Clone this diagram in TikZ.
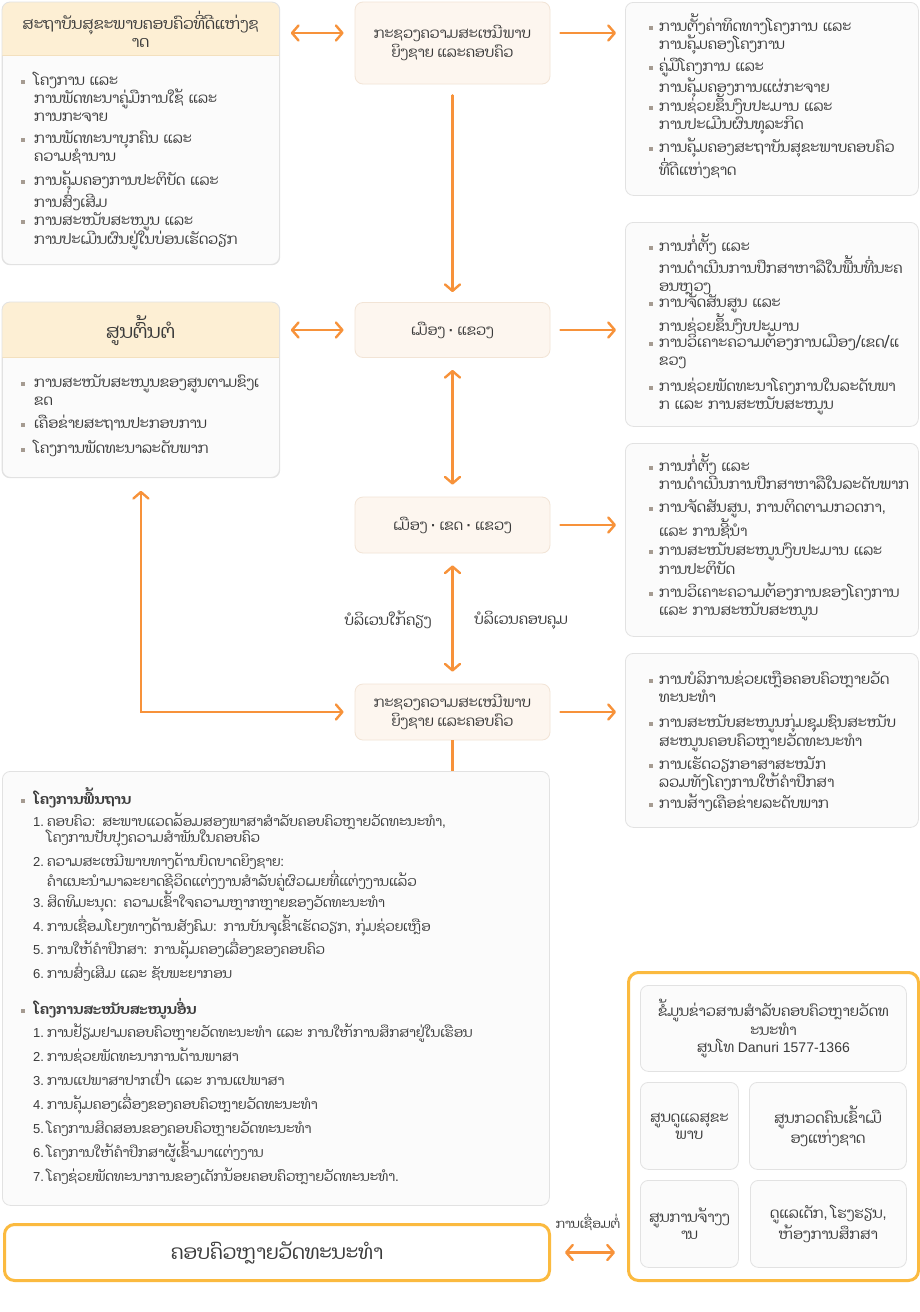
\documentclass[tikz,border=0pt]{standalone}
\usepackage{fontspec}
\setmainfont{Liberation Sans}
\newfontfamily\laofont[Script=Lao]{Dhyana}
\newfontfamily\latinfont{Liberation Sans}
\usetikzlibrary{arrows.meta}
\usetikzlibrary{calc}
\definecolor{custom-orange}{RGB}{247, 146, 58}
\definecolor{custom-gold}{RGB}{251, 186, 63}
\definecolor{custom-head}{RGB}{253, 239, 212}
\definecolor{custom-headline}{RGB}{243, 224, 190}
\definecolor{custom-peach}{RGB}{253, 246, 239}
\definecolor{custom-peachline}{RGB}{242, 228, 214}
\definecolor{custom-line}{RGB}{226, 226, 226}
\definecolor{custom-card}{RGB}{251, 251, 251}
\definecolor{custom-text}{RGB}{58, 58, 58}
\definecolor{custom-dot}{RGB}{165, 155, 145}
\newcommand{\lcol}{{\latinfont:}}
\newcommand{\lcom}{{\latinfont,}}

\tikzset{
  >={Straight Barb[length=6.5pt,width=15pt,round]},
  card/.style={draw=custom-line, fill=custom-card, rounded corners=8pt, line width=0.8pt, anchor=north west, inner sep=0pt},
  stagebox/.style={draw=custom-peachline, fill=custom-peach, rounded corners=8pt, line width=0.8pt, minimum width=195pt, align=center, inner sep=0pt, font=\laofont\fontsize{14.5}{19}\selectfont, text=custom-text},
  goldbox/.style={draw=custom-gold, fill=white, rounded corners=10pt, line width=3pt, anchor=north west, inner sep=0pt, text=custom-text},
  headtitle/.style={align=center, inner sep=0pt, text=custom-text},
  txt/.style={anchor=base west, inner sep=0pt, text width=290pt, align=left, font=\laofont\fontsize{14.5}{18}\selectfont, text=custom-text},
  ktxt/.style={txt, font=\laofont\fontsize{13.6}{16.5}\selectfont},
  numtxt/.style={anchor=base west, inner sep=0pt, font=\fontsize{13}{16.5}\selectfont, text=custom-text},
  boxtxt/.style={align=center, font=\laofont\fontsize{14.5}{17}\selectfont, text=custom-text},
  lbl/.style={inner sep=0pt, font=\laofont\fontsize{14.5}{16}\selectfont, text=custom-text},
  sq/.style={fill=custom-dot, minimum size=3.2pt, inner sep=0pt},
  flow/.style={draw=custom-orange, line width=2.4pt, line cap=round, ->},
  flowboth/.style={flow, <->}
}

\begin{document}
\begin{tikzpicture}[x=1pt,y=-1pt]
\useasboundingbox (0,0) rectangle (920,1312);
\fill[white] (0,0) rectangle (920,1312);

% institute (top left)
\node[card, minimum width=277pt, minimum height=262pt] (inst) at (2,2) {};
\fill[custom-head] (2,55) [rounded corners=8pt] -- (2,2) -- (279,2) [sharp corners] -- (279,55) -- cycle;
\draw[custom-headline] (2,55) -- (279,55);
\draw[custom-line, line width=0.8pt, rounded corners=8pt] (inst.north west) rectangle (inst.south east);
\node[headtitle, font=\laofont\fontsize{15.5}{18}\selectfont] (inst-title) at (140.5,29) {ສະຖາບັນສຸຂະພາບຄອບຄົວທີ່ດີແຫ່ງຊ\\າດ};
\foreach \y/\t [count=\i] in {85/{ໂຄງການ ແລະ\\ການພັດທະນາຄູ່ມືການໃຊ້ ແລະ\\ການກະຈາຍ},
    143/{ການພັດທະນາບຸກຄົນ ແລະ\\ຄວາມຊຳນານ},
    185/{ການຄຸ້ມຄອງການປະຕິບັດ ແລະ\\ການສົ່ງເສີມ},
    225/{ການສະໜັບສະໜູນ ແລະ\\ການປະເມີນຜົນຢູ່ໃນບ່ອນເຮັດວຽກ}} {
  \node[sq] (inst-b\i) at (23,\y-3) {};
  \node[txt] (inst-t\i) at (34,\y) {\t};
}

% main center (left middle)
\node[card, minimum width=277pt, minimum height=175pt] (hub) at (2,302) {};
\fill[custom-head] (2,357) [rounded corners=8pt] -- (2,302) -- (279,302) [sharp corners] -- (279,357) -- cycle;
\draw[custom-headline] (2,357) -- (279,357);
\draw[custom-line, line width=0.8pt, rounded corners=8pt] (hub.north west) rectangle (hub.south east);
\node[headtitle, font=\laofont\fontsize{19}{22}\selectfont] (hub-title) at (140.5,330) {ສູນຕົ້ນຕໍ};
\foreach \y/\t [count=\i] in {387/{ການສະໜັບສະໜູນຂອງສູນຕາມຂົງເ\\ຂດ},
    428/{ເຄືອຂ່າຍສະຖານປະກອບການ},
    453/{ໂຄງການພັດທະນາລະດັບພາກ}} {
  \node[sq] (hub-b\i) at (23,\y-3) {};
  \node[txt] (hub-t\i) at (34,\y) {\t};
}

% levels (center column)
\node[stagebox, minimum height=82pt] (ministry) at (452.5,43) {ກະຊວງຄວາມສະເໝີພາບ\\ຍິງຊາຍ ແລະຄອບຄົວ};
\node[stagebox, minimum height=55pt] (city) at (452.5,330) {ເມືອງ {\latinfont\bfseries ·} ແຂວງ};
\node[stagebox, minimum height=56pt] (district) at (452.5,525) {ເມືອງ {\latinfont\bfseries ·} ເຂດ {\latinfont\bfseries ·} ແຂວງ};
\node[stagebox, minimum height=56pt] (support) at (452.5,712) {ກະຊວງຄວາມສະເໝີພາບ\\ຍິງຊາຍ ແລະຄອບຄົວ};

% tasks (right column)
\node[card, minimum width=293pt, minimum height=193pt] (work-top) at (625,2) {};
\foreach \y/\t [count=\i] in {31/{ການຕັ້ງຄ່າທິດທາງໂຄງການ ແລະ\\ການຄຸ້ມຄອງໂຄງການ},
    71/{ຄູ່ມືໂຄງການ ແລະ\\ການຄຸ້ມຄອງການແຜ່ກະຈາຍ},
    111/{ການຊ່ວຍຂຶ້ນງົບປະມານ ແລະ\\ການປະເມີນຜົນທຸລະກິດ},
    152/{ການຄຸ້ມຄອງສະຖາບັນສຸຂະພາບຄອບຄົວ\\ທີ່ດີແຫ່ງຊາດ}} {
  \node[sq] (work-top-b\i) at (651,\y-3) {};
  \node[txt] (work-top-t\i) at (659,\y) {\t};
}

\node[card, minimum width=293pt, minimum height=204pt] (work-city) at (625,222) {};
\foreach \y/\t [count=\i] in {251/{ການກໍ່ຕັ້ງ ແລະ\\ການດຳເນີນການປຶກສາຫາລືໃນພື້ນທີ່ນະຄ\\ອນຫຼວງ},
    307/{ການຈັດສັນສູນ ແລະ\\ການຊ່ວຍຂຶ້ນງົບປະມານ},
    347/{ການວິເຄາະຄວາມຕ້ອງການເມືອງ/ເຂດ/ແ\\ຂວງ},
    391/{ການຊ່ວຍພັດທະນາໂຄງການໃນລະດັບພາ\\ກ ແລະ ການສະໜັບສະໜູນ}} {
  \node[sq] (work-city-b\i) at (651,\y-3) {};
  \node[txt] (work-city-t\i) at (659,\y) {\t};
}

\node[card, minimum width=293pt, minimum height=193pt] (work-district) at (625,443) {};
\foreach \y/\t [count=\i] in {471/{ການກໍ່ຕັ້ງ ແລະ\\ການດຳເນີນການປຶກສາຫາລືໃນລະດັບພາກ},
    512/{ການຈັດສັນສູນ\lcom{} ການຕິດຕາມກວດກາ\lcom\\ແລະ ການຊີ້ນຳ},
    555/{ການສະໜັບສະໜູນງົບປະມານ ແລະ\\ການປະຕິບັດ},
    597/{ການວິເຄາະຄວາມຕ້ອງການຂອງໂຄງການ\\ແລະ ການສະໜັບສະໜູນ}} {
  \node[sq] (work-district-b\i) at (651,\y-3) {};
  \node[txt] (work-district-t\i) at (659,\y) {\t};
}

\node[card, minimum width=293pt, minimum height=174pt] (work-support) at (625,653) {};
\foreach \y/\t [count=\i] in {684/{ການບໍລິການຊ່ວຍເຫຼືອຄອບຄົວຫຼາຍວັດ\\ທະນະທຳ},
    727/{ການສະໜັບສະໜູນກຸ່ມຊຸມຊົນສະໜັບ\\ສະໜູນຄອບຄົວຫຼາຍວັດທະນະທຳ},
    769/{ການເຮັດວຽກອາສາສະໝັກ\\ລວມທັງໂຄງການໃຫ້ຄຳປຶກສາ},
    808/{ການສ້າງເຄືອຂ່າຍລະດັບພາກ}} {
  \node[sq] (work-support-b\i) at (651,\y-3) {};
  \node[txt] (work-support-t\i) at (659,\y) {\t};
}

% programs (bottom left)
\node[card, minimum width=547pt, minimum height=434pt] (programs) at (2,771) {};
\node[sq] (basic-b) at (23,801) {};
\node[ktxt, font=\laofont\bfseries\fontsize{14}{17}\selectfont] (basic-title) at (34,804) {ໂຄງການພື້ນຖານ};
\foreach \y/\t [count=\i] in {826/{ຄອບຄົວ\lcol{} ສະພາບແວດລ້ອມສອງພາສາສຳລັບຄອບຄົວຫຼາຍວັດທະນະທຳ\lcom\\ໂຄງການປັບປຸງຄວາມສຳພັນໃນຄອບຄົວ},
    866/{ຄວາມສະເໝີພາບທາງດ້ານບົດບາດຍິງຊາຍ\lcol\\ຄຳແນະນຳມາລະຍາດຊີວິດແຕ່ງງານສຳລັບຄູ່ຜົວເມຍທີ່ແຕ່ງງານແລ້ວ},
    907/{ສິດທິມະນຸດ\lcol{} ຄວາມເຂົ້າໃຈຄວາມຫຼາກຫຼາຍຂອງວັດທະນະທຳ},
    931/{ການເຊື່ອມໂຍງທາງດ້ານສັງຄົມ\lcol{} ການບັນຈຸເຂົ້າເຮັດວຽກ\lcom{} ກຸ່ມຊ່ວຍເຫຼືອ},
    954/{ການໃຫ້ຄຳປຶກສາ\lcol{} ການຄຸ້ມຄອງເລື່ອງຂອງຄອບຄົວ},
    978/{ການສົ່ງເສີມ ແລະ ຊັບພະຍາກອນ}} {
  \node[numtxt] (basic-n\i) at (33,\y) {\i.};
  \node[ktxt, text width=490pt] (basic-\i) at (47,\y) {\t};
}
\node[sq] (other-b) at (23,1011) {};
\node[ktxt, font=\laofont\bfseries\fontsize{14}{17}\selectfont] (other-title) at (34,1014) {ໂຄງການສະໜັບສະໜູນອື່ນ};
\foreach \y/\t [count=\i] in {1037/{ການຢ້ຽມຢາມຄອບຄົວຫຼາຍວັດທະນະທຳ ແລະ ການໃຫ້ການສຶກສາຢູ່ໃນເຮືອນ},
    1061/{ການຊ່ວຍພັດທະນາການດ້ານພາສາ},
    1085/{ການແປພາສາປາກເປົ່າ ແລະ ການແປພາສາ},
    1109/{ການຄຸ້ມຄອງເລື່ອງຂອງຄອບຄົວຫຼາຍວັດທະນະທຳ},
    1133/{ໂຄງການສິດສອນຂອງຄອບຄົວຫຼາຍວັດທະນະທຳ},
    1157/{ໂຄງການໃຫ້ຄຳປຶກສາຜູ້ເຂົ້າມາແຕ່ງງານ},
    1181/{ໂຄງຊ່ວຍພັດທະນາການຂອງເດັກນ້ອຍຄອບຄົວຫຼາຍວັດທະນະທຳ{\latinfont.}}} {
  \node[numtxt] (other-n\i) at (33,\y) {\i.};
  \node[ktxt, text width=490pt] (other-\i) at (47,\y) {\t};
}

% services (bottom right)
\node[goldbox, minimum width=290pt, minimum height=308pt] (services) at (627,971) {};
\node[card, boxtxt, minimum width=266pt, minimum height=86pt] (info) at (640,985) {ຂໍ້ມູນຂ່າວສານສຳລັບຄອບຄົວຫຼາຍວັດທ\\ະນະທຳ\\ສູນໂທ {\latinfont\fontsize{14}{17}\selectfont Danuri 1577-1366}};
\node[card, boxtxt, minimum width=98pt, minimum height=87pt] (health) at (640,1082) {ສູນດູແລສຸຂະ\\ພາບ};
\node[card, boxtxt, minimum width=157pt, minimum height=87pt] (immigration) at (749,1082) {ສູນກວດຄົນເຂົ້າເມື\\ອງແຫ່ງຊາດ};
\node[card, boxtxt, minimum width=98pt, minimum height=87pt] (jobs) at (640,1180) {ສູນການຈ້າງງ\\ານ};
\node[card, boxtxt, minimum width=156pt, minimum height=87pt] (school) at (750,1180) {ດູແລເດັກ\lcom{} ໂຮງຮຽນ\lcom\\ຫ້ອງການສຶກສາ};

% family (bottom)
\node[goldbox, minimum width=545pt, minimum height=56pt, font=\laofont\fontsize{20}{24}\selectfont] (family) at (3,1223) {ຄອບຄົວຫຼາຍວັດທະນະທຳ};

% connectors
\coordinate (toprow) at (0,33);
\draw[flowboth, shorten <=11pt, shorten >=11pt] (inst.east |- toprow) -- (ministry.west |- toprow);
\draw[flow, shorten <=10pt, shorten >=9pt] (ministry.east |- toprow) -- (work-top.west |- toprow);
\draw[flow, shorten <=11pt, shorten >=10pt] (ministry.south) -- (city.north);
\draw[flowboth, shorten <=11pt, shorten >=11pt] (hub.east |- city.west) -- (city.west);
\draw[flow, shorten <=10pt, shorten >=9pt] (city.east) -- (work-city.west |- city.east);
\draw[flowboth, shorten <=12pt, shorten >=12pt] (city.south) -- (district.north);
\draw[flow, shorten <=10pt, shorten >=9pt] (district.east) -- (work-district.west |- district.east);
\draw[flowboth, shorten <=12pt, shorten >=12pt] (district.south) -- (support.north);
\node[lbl] (near) at (388,620) {ບໍລິເວນໃກ້ຄຽງ};
\node[lbl] (cover) at (521,620) {ບໍລິເວນຄອບຄຸມ};
\draw[flow, shorten <=10pt, shorten >=9pt] (support.east) -- (work-support.west |- support.east);
\draw[flowboth, shorten <=13pt, shorten >=11pt] (hub.south) |- (support.west);
\draw[custom-orange, line width=2.4pt] (support.south) -- (support.south |- programs.north);
\draw[flowboth, shorten <=14pt, shorten >=12pt] (family.east) -- (services.west |- family.east);
\node[lbl, font=\laofont\fontsize{12.5}{14}\selectfont] (connect) at (588,1222) {ການເຊື່ອມຕໍ່};

\end{tikzpicture}
\end{document}
